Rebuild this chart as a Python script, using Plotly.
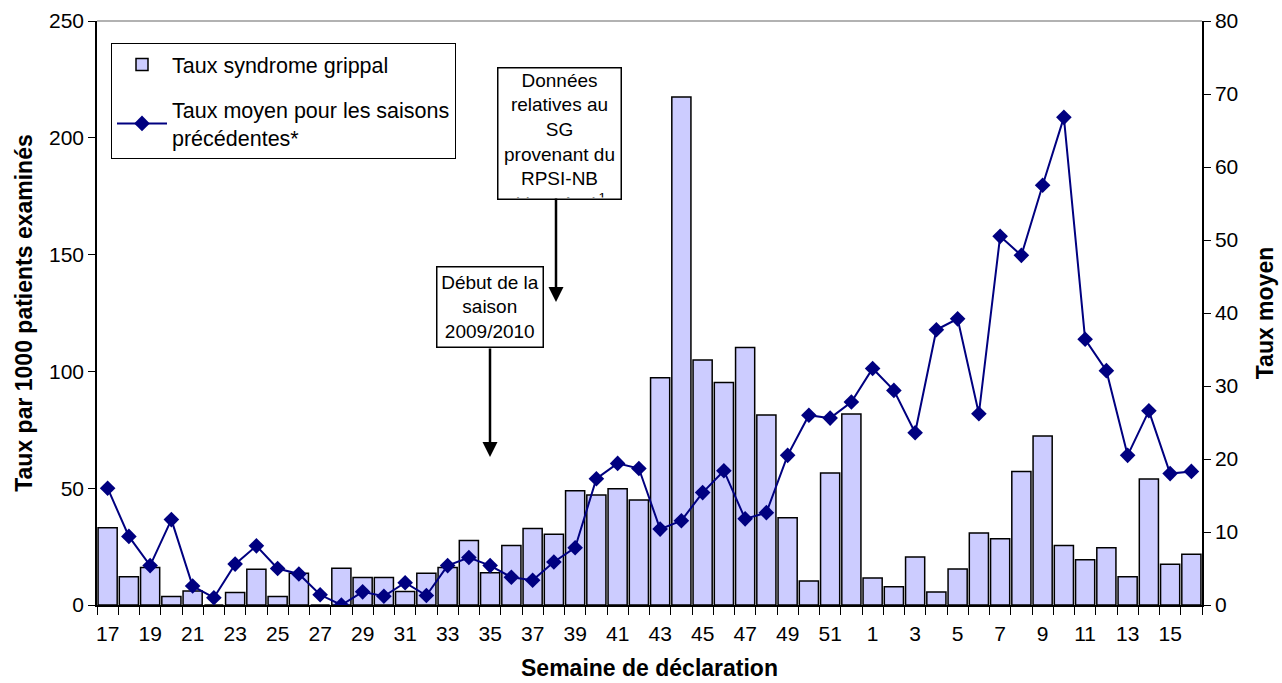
import plotly.graph_objects as go

# ---- data ----
weeks = [str(w) for w in range(17, 53)] + [str(w) for w in range(1, 17)]
taux_sg = [33.1, 12.1, 16.0, 3.6, 6.0, 0.0, 5.3, 15.3, 3.6, 13.6, 0.0, 15.7, 11.8, 11.8,
           5.8, 13.6, 16.1, 27.6, 13.8, 25.5, 32.7, 30.3, 48.9, 47.1, 49.8, 44.9, 97.3,
           217.5, 104.9, 95.2, 110.2, 81.3, 37.4, 10.3, 56.5, 81.8,
           11.6, 7.8, 20.5, 5.6, 15.4, 30.8, 28.4, 57.1, 72.3, 25.5, 19.4, 24.5, 12.1,
           53.9, 17.4, 21.7]
taux_moyen = [16.0, 9.4, 5.4, 11.7, 2.6, 1.0, 5.6, 8.1, 5.0, 4.25, 1.4, 0.0, 1.8, 1.2,
              3.05, 1.3, 5.4, 6.5, 5.4, 3.8, 3.4, 5.9, 7.85, 17.3, 19.4, 18.7, 10.4,
              11.55, 15.4, 18.4, 11.8, 12.65, 20.5, 26.0, 25.6, 27.8,
              32.4, 29.4, 23.6, 37.7, 39.2, 26.2, 50.5, 47.9, 57.5, 66.8, 36.4, 32.1,
              20.5, 26.6, 18.0, 18.3]

pos = list(range(len(weeks)))          # category slots
label_pos = pos[::2]
label_text = weeks[::2]
boundaries = [p - 0.5 for p in pos] + [pos[-1] + 0.5]

FONT = "Liberation Sans, Arial, sans-serif"

fig = go.Figure()
fig.add_trace(go.Bar(
    x=pos, y=taux_sg, name="Taux syndrome grippal",
    customdata=weeks,
    marker=dict(color="#CCCCFF", line=dict(color="black", width=1.5)),
    legendgroup="a",
))
fig.add_trace(go.Scatter(
    x=pos, y=taux_moyen, yaxis="y2", mode="lines+markers",
    name="Taux moyen pour les saisons<br>précédentes*",
    customdata=weeks,
    line=dict(color="#000080", width=2),
    marker=dict(symbol="diamond", size=12, color="#000080"),
    legendgroup="b",
))

# plot area in pixels: x 97..1202, y 21..605
def px(x):
    return (x - 97) / 1105.0

def py(y):
    return (605 - y) / 584.0

fig.update_layout(
    width=1282, height=683,
    margin=dict(l=97, r=80, t=21, b=78),
    paper_bgcolor="white", plot_bgcolor="white",
    font=dict(family=FONT, size=21, color="black"),
    bargap=0.1,
    showlegend=True,
    legend=dict(x=px(111), y=py(43), xanchor="left", yanchor="top",
                bgcolor="white", bordercolor="black", borderwidth=1,
                font=dict(size=21.5), tracegroupgap=14, itemwidth=50),
    xaxis=dict(range=[-0.5, len(weeks) - 0.5], automargin=False,
               tickmode="array", tickvals=label_pos, ticktext=label_text,
               ticks="outside", ticklen=9, tickcolor="rgba(0,0,0,0)", tickangle=0,
               minor=dict(tickmode="array", tickvals=boundaries, ticks="outside",
                          ticklen=8, tickcolor="black", showgrid=False),
               showline=True, linecolor="black", linewidth=1.5,
               showgrid=False, zeroline=False,
               title=dict(text="<b>Semaine de déclaration</b>", font=dict(size=23), standoff=16)),
    yaxis=dict(range=[0, 250], dtick=50, ticks="outside", ticklen=7, tickcolor="black",
               automargin=False,
               showline=True, linecolor="black", linewidth=1.5, showgrid=False, zeroline=False,
               title=dict(text="<b>Taux par 1000 patients examinés</b>", font=dict(size=23), standoff=10)),
    yaxis2=dict(range=[0, 80], dtick=10, overlaying="y", side="right",
                ticks="outside", ticklen=7, tickcolor="black", automargin=False,
                showline=True, linecolor="black", linewidth=1.5, showgrid=False, zeroline=False,
                title=dict(text="<b>Taux moyen</b>", font=dict(size=23), standoff=20)),
)

# gray top border of plot area
fig.add_shape(type="line", xref="paper", yref="paper", x0=0, x1=1, y0=1, y1=1,
              line=dict(color="#999999", width=1.5))

# text boxes
fig.add_annotation(
    xref="paper", yref="paper", x=px(559), y=py(67), xanchor="center", yanchor="top",
    text="Données<br>relatives au<br>SG<br>provenant du<br>RPSI-NB<br>(données)<sup>1</sup>",
    showarrow=False, align="center", valign="top", width=120, height=128,
    bordercolor="black", borderwidth=1.5, borderpad=1, bgcolor="white",
    font=dict(size=19),
)
fig.add_annotation(
    xref="paper", yref="paper", x=px(489.5), y=py(266), xanchor="center", yanchor="top",
    text="Début de la<br>saison<br>2009/2010",
    showarrow=False, align="center", valign="middle", width=103, height=77,
    bordercolor="black", borderwidth=1.5, borderpad=1, bgcolor="white",
    font=dict(size=19),
)
# arrows
fig.add_annotation(xref="paper", yref="paper", x=px(556), y=py(302), text="",
                   showarrow=True, ax=0, ay=-105, arrowhead=2, arrowsize=1.2,
                   arrowwidth=2.5, arrowcolor="black")
fig.add_annotation(xref="paper", yref="paper", x=px(490), y=py(457), text="",
                   showarrow=True, ax=0, ay=-110, arrowhead=2, arrowsize=1.2,
                   arrowwidth=2.5, arrowcolor="black")

fig.write_html("out.html", config={"displayModeBar": False},
               post_script="document.body.style.margin='0px';")
